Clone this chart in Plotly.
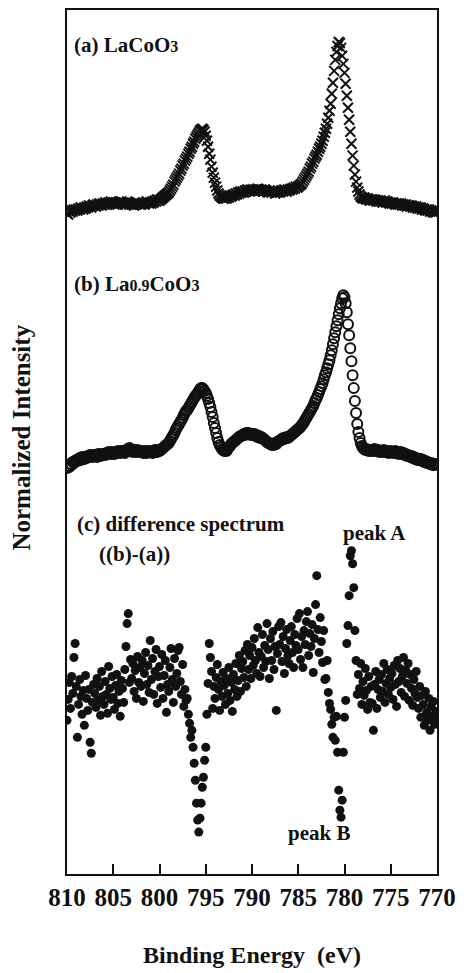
import numpy as np
import plotly.graph_objects as go

# Binding energy grid (eV), 0.125 eV steps from 810 down to 770
energy = np.round(np.arange(810.0, 769.99, -0.125), 3)

# (a) LaCoO3 - stacked display intensity (arb. units), rows of 1 eV
spec_a = [
    662, 661, 664, 663, 665, 664, 666, 665,
    666, 665, 667, 666, 668, 667, 666, 668,
    667, 669, 668, 670, 669, 668, 670, 671,
    670, 669, 671, 670, 672, 671, 670, 672,
    671, 673, 672, 671, 673, 672, 674, 673,
    672, 671, 673, 672, 671, 673, 672, 674,
    672, 673, 671, 672, 674, 673, 671, 672,
    671, 672, 670, 672, 671, 673, 672, 671,
    671, 672, 673, 671, 672, 674, 673, 672,
    673, 672, 674, 673, 675, 674, 676, 675,
    675, 676, 677, 678, 679, 680, 681, 682,
    683, 685, 687, 689, 691, 694, 696, 698,
    700, 702, 705, 707, 710, 712, 715, 717,
    719, 722, 724, 727, 729, 732, 734, 737,
    739, 741, 743, 745, 746, 747, 746, 744,
    740, 735, 729, 722, 716, 709, 703, 698,
    693, 689, 685, 682, 680, 679, 678, 677,
    677, 678, 677, 679, 678, 680, 679, 680,
    681, 680, 682, 681, 683, 682, 684, 683,
    684, 683, 685, 684, 686, 685, 684, 686,
    685, 686, 684, 686, 685, 687, 686, 685,
    686, 685, 684, 686, 685, 684, 683, 685,
    684, 683, 685, 684, 682, 684, 683, 684,
    683, 684, 685, 684, 686, 685, 684, 686,
    685, 686, 687, 686, 688, 687, 689, 688,
    689, 690, 691, 692, 694, 696, 698, 700,
    702, 704, 707, 709, 712, 714, 717, 719,
    721, 724, 727, 729, 732, 735, 739, 743,
    747, 752, 758, 765, 772, 782, 793, 805,
    816, 824, 830, 834, 833, 828, 820, 812,
    803, 792, 780, 768, 756, 744, 732, 720,
    710, 701, 694, 688, 684, 681, 679, 678,
    677, 678, 677, 676, 677, 676, 675, 676,
    676, 675, 676, 675, 674, 675, 674, 675,
    674, 673, 674, 675, 673, 674, 673, 672,
    673, 672, 673, 672, 671, 672, 671, 672,
    671, 672, 670, 671, 670, 671, 669, 670,
    670, 669, 670, 668, 669, 668, 669, 667,
    668, 667, 668, 666, 667, 666, 665, 666,
    665, 666, 664, 665, 664, 663, 664, 663,
    664,
]

# (b) La0.9CoO3
spec_b = [
    407, 409, 408, 411, 410, 413, 412, 414,
    415, 414, 416, 417, 415, 418, 417, 416,
    418, 417, 419, 418, 420, 419, 418, 420,
    419, 420, 418, 421, 420, 419, 421, 420,
    421, 420, 422, 421, 423, 422, 421, 423,
    422, 421, 423, 422, 424, 423, 422, 424,
    423, 424, 422, 425, 424, 426, 427, 425,
    424, 423, 425, 424, 423, 425, 424, 423,
    424, 423, 422, 424, 423, 422, 424, 423,
    423, 424, 422, 423, 425, 424, 423, 425,
    424, 425, 426, 427, 428, 429, 430, 431,
    432, 434, 436, 438, 440, 442, 445, 447,
    449, 451, 453, 455, 457, 460, 462, 464,
    465, 467, 469, 471, 473, 475, 477, 479,
    480, 482, 484, 486, 487, 487, 486, 484,
    482, 479, 476, 472, 468, 463, 458, 452,
    447, 442, 437, 433, 430, 428, 426, 425,
    424, 425, 424, 426, 428, 429, 431, 432,
    433, 434, 435, 436, 437, 438, 439, 439,
    440, 441, 440, 442, 441, 442, 441, 440,
    441, 440, 441, 439, 440, 438, 439, 437,
    438, 437, 436, 435, 434, 433, 432, 432,
    431, 430, 431, 430, 432, 431, 433, 434,
    434, 435, 436, 437, 436, 437, 438, 437,
    438, 439, 440, 441, 442, 443, 444, 445,
    446, 447, 448, 450, 451, 453, 455, 457,
    459, 461, 463, 465, 467, 469, 472, 475,
    477, 480, 483, 486, 489, 492, 496, 500,
    503, 507, 511, 515, 520, 525, 531, 537,
    543, 549, 555, 561, 567, 572, 577, 580,
    578, 572, 563, 551, 540, 527, 514, 500,
    487, 474, 462, 451, 443, 437, 432, 429,
    427, 426, 425, 426, 425, 424, 425, 424,
    425, 424, 426, 425, 424, 425, 423, 424,
    424, 423, 425, 424, 423, 424, 422, 423,
    424, 423, 422, 423, 424, 422, 423, 421,
    422, 423, 421, 422, 420, 421, 419, 420,
    419, 418, 419, 417, 418, 416, 417, 415,
    416, 415, 416, 414, 415, 413, 414, 412,
    413, 412, 411, 412, 410, 411, 410, 411,
    411,
]

# (c) difference spectrum ((b)-(a)), displayed with offset
spec_c = [
    154, 175, 192, 166, 198, 181, 217, 231,
    188, 137, 170, 195, 178, 160, 184, 149,
    199, 176, 164, 185, 132, 121, 172, 190,
    181, 167, 196, 174, 188, 159, 203, 178,
    170, 193, 180, 161, 208, 186, 175, 198,
    177, 165, 189, 200, 171, 183, 158, 194,
    186, 172, 205, 228, 251, 261, 192, 215,
    196, 211, 183, 204, 176, 218, 192, 207,
    188, 214, 173, 201, 222, 190, 209, 182,
    234, 195, 216, 180, 203, 225, 171, 198,
    208, 187, 220, 176, 199, 214, 162, 190,
    183, 207, 226, 195, 172, 216, 188, 201,
    224, 227, 193, 180, 210, 168, 185, 174,
    176, 160, 151, 137, 144, 127, 111, 94,
    71, 54, 42, 56, 71, 87, 97, 114,
    127, 160, 191, 231, 217, 203, 166, 188,
    176, 197, 210, 185, 164, 193, 178, 202,
    189, 170, 196, 181, 207, 174, 192, 163,
    200, 185, 211, 178, 194, 219, 183, 206,
    213, 197, 224, 188, 230, 205, 219, 196,
    227, 209, 236, 214, 201, 247, 222, 198,
    218, 240, 207, 229, 213, 251, 225, 196,
    236, 214, 243, 205, 228, 164, 221, 248,
    230, 252, 213, 238, 201, 226, 245, 219,
    211, 234, 248, 222, 207, 240, 229, 256,
    225, 261, 215, 238, 207, 244, 230, 253,
    263, 219, 241, 228, 250, 202, 236, 270,
    299, 245, 222, 257, 233, 212, 244, 195,
    196, 214, 182, 171, 165, 150, 137, 157,
    134, 158, 122, 84, 64, 57, 74, 122,
    157, 174, 231, 249, 279, 319, 324, 311,
    287, 244, 214, 180, 200, 186, 211, 170,
    193, 179, 206, 184, 165, 198, 172, 188,
    171, 144, 190, 203, 166, 185, 195, 177,
    200, 183, 211, 172, 191, 205, 180, 196,
    187, 201, 175, 209, 190, 168, 214, 193,
    206, 182, 198, 217, 178, 204, 191, 211,
    174, 200, 186, 169, 195, 181, 203, 177,
    166, 188, 157, 179, 170, 149, 183, 162,
    154, 176, 144, 168, 158, 173, 150, 163,
    157,
]

x_ticks = [810, 805, 800, 795, 790, 785, 780, 775, 770]

FONT = "Liberation Serif"
BLACK = "#111111"

fig = go.Figure()
fig.add_trace(go.Scatter(
    x=energy, y=spec_a, mode="markers",
    marker=dict(symbol="x-thin", size=10, color=BLACK,
                line=dict(width=2, color=BLACK)),
    showlegend=False))
fig.add_trace(go.Scatter(
    x=energy, y=spec_b, mode="markers",
    marker=dict(symbol="circle-open", size=10, color=BLACK,
                line=dict(width=2, color=BLACK)),
    showlegend=False))
fig.add_trace(go.Scatter(
    x=energy, y=spec_c, mode="markers",
    marker=dict(symbol="circle", size=9, color=BLACK),
    showlegend=False))

lab = dict(family=FONT, size=21, color=BLACK, weight="bold")
SUB = "<span style='font-size:16px'>%s</span>"
annotations = [
    dict(x=809.5, y=831, text="(a) LaCoO" + SUB % "3",
         xanchor="left", yanchor="middle", showarrow=False, font=lab),
    dict(x=809.5, y=591, text="(b) La" + SUB % "0.9" + "CoO" + SUB % "3",
         xanchor="left", yanchor="middle", showarrow=False, font=lab),
    dict(x=809.1, y=351, text="(c) difference spectrum",
         xanchor="left", yanchor="middle", showarrow=False, font=lab),
    dict(x=806.8, y=321, text="((b)-(a))",
         xanchor="left", yanchor="middle", showarrow=False, font=lab),
    dict(x=776.8, y=342, text="peak A",
         xanchor="center", yanchor="middle", showarrow=False, font=lab),
    dict(x=782.8, y=41, text="peak B",
         xanchor="center", yanchor="middle", showarrow=False, font=lab),
    dict(x=-0.122, y=0.505, xref="paper", yref="paper", text="Normalized Intensity",
         textangle=-90, xanchor="center", yanchor="middle", showarrow=False,
         font=dict(family=FONT, size=25, color=BLACK, weight="bold")),
]

fig.update_layout(
    width=464, height=973,
    margin=dict(l=67, r=20, t=8, b=99),
    paper_bgcolor="white", plot_bgcolor="white",
    annotations=annotations,
    xaxis=dict(
        range=[810, 770], tickvals=x_ticks, ticktext=[str(v) for v in x_ticks],
        ticks="inside", ticklen=10, tickwidth=1.5, tickcolor=BLACK,
        showline=True, linewidth=2, linecolor=BLACK, mirror=True,
        showgrid=False, zeroline=False,
        ticklabelstandoff=0,
        tickfont=dict(family=FONT, size=25, color=BLACK, weight="bold"),
        title=dict(text="Binding Energy  (eV)", standoff=36,
                   font=dict(family=FONT, size=24, color=BLACK, weight="bold")),
    ),
    yaxis=dict(
        range=[0, 866], showticklabels=False, ticks="",
        showline=True, linewidth=2, linecolor=BLACK, mirror=True,
        showgrid=False, zeroline=False,
    ),
)

fig.write_html("out.html")
